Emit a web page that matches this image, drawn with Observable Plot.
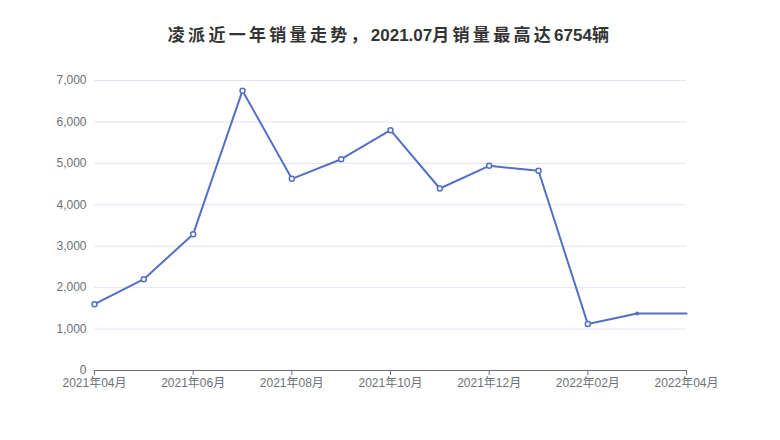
<!DOCTYPE html>
<html>
<head>
<meta charset="utf-8">
<script src="https://cdn.jsdelivr.net/npm/d3@7"></script>
<script src="https://cdn.jsdelivr.net/npm/@observablehq/plot@0.6"></script>
<style>
  html, body { margin: 0; padding: 0; background: #fff; }
  #title { width: 780px; height: 60px; box-sizing: border-box; padding-top: 25px; text-align: center;
    font-family: "Liberation Sans", "Noto Sans CJK SC", sans-serif; font-weight: bold; font-size: 17px; color: #333; line-height: 22px; white-space: nowrap; }
  #title .cjk { letter-spacing: 3.3px; }
  #chart svg { display: block; }
</style>
</head>
<body>
<div id="title"><span class="cjk">凌派近一年销量走势，</span>2021.07<span class="cjk">月销量最高达</span>6754<span class="cjk">辆</span></div>
<div id="chart"></div>
<script>
const months = ["2021年04月","2021年05月","2021年06月","2021年07月","2021年08月","2021年09月","2021年10月","2021年11月","2021年12月","2022年01月","2022年02月","2022年03月","2022年04月"];
const sales = [1600, 2205, 3290, 6754, 4627, 5100, 5800, 4393, 4940, 4820, 1120, 1375, 1375];
const markerKind = ["open","open","open","open","open","open","open","open","open","open","open","dot","none"];
const yTicks = [0,1000,2000,3000,4000,5000,6000,7000];
const xTickIdx = [0,2,4,6,8,10,12];

const data = months.map((m, i) => ({idx: i, month: m, value: sales[i], kind: markerKind[i]}));
const fmtY = d3.format(",");
const color = "#5470c6";
const font = "'Liberation Sans', 'Noto Sans CJK SC', sans-serif";

const chart = Plot.plot({
  width: 780,
  height: 380,
  marginTop: 20,
  marginBottom: 70,
  marginLeft: 94,
  marginRight: 94,
  style: {fontFamily: font, fontSize: "12px", color: "#6e7079", background: "#fff"},
  x: {type: "linear", domain: [0, months.length - 1]},
  y: {domain: [0, 7000]},
  marks: [
    Plot.ruleY(yTicks.filter(d => d > 0), {stroke: "#e0e6f1", strokeWidth: 1, strokeOpacity: 1}),
    Plot.ruleY([0], {stroke: "#6e7079", strokeWidth: 1}),
    Plot.axisY({ticks: yTicks, tickFormat: fmtY, tickSize: 0, tickPadding: 8, fill: "#6e7079", fontSize: 12, label: null}),
    Plot.axisX({ticks: xTickIdx, tickFormat: i => months[i], tickSize: 5, tickPadding: 3, stroke: "#6e7079", fill: "#6e7079", fontSize: 12, label: null}),
    Plot.line(data, {x: "idx", y: "value", stroke: color, strokeWidth: 2}),
    Plot.dot(data.filter(d => d.kind === "open"), {x: "idx", y: "value", r: 2.5, fill: "#fff", stroke: color, strokeWidth: 1.5}),
    Plot.dot(data.filter(d => d.kind === "dot"), {x: "idx", y: "value", r: 2, fill: color, stroke: "none"})
  ]
});
document.getElementById("chart").appendChild(chart);
</script>
</body>
</html>
